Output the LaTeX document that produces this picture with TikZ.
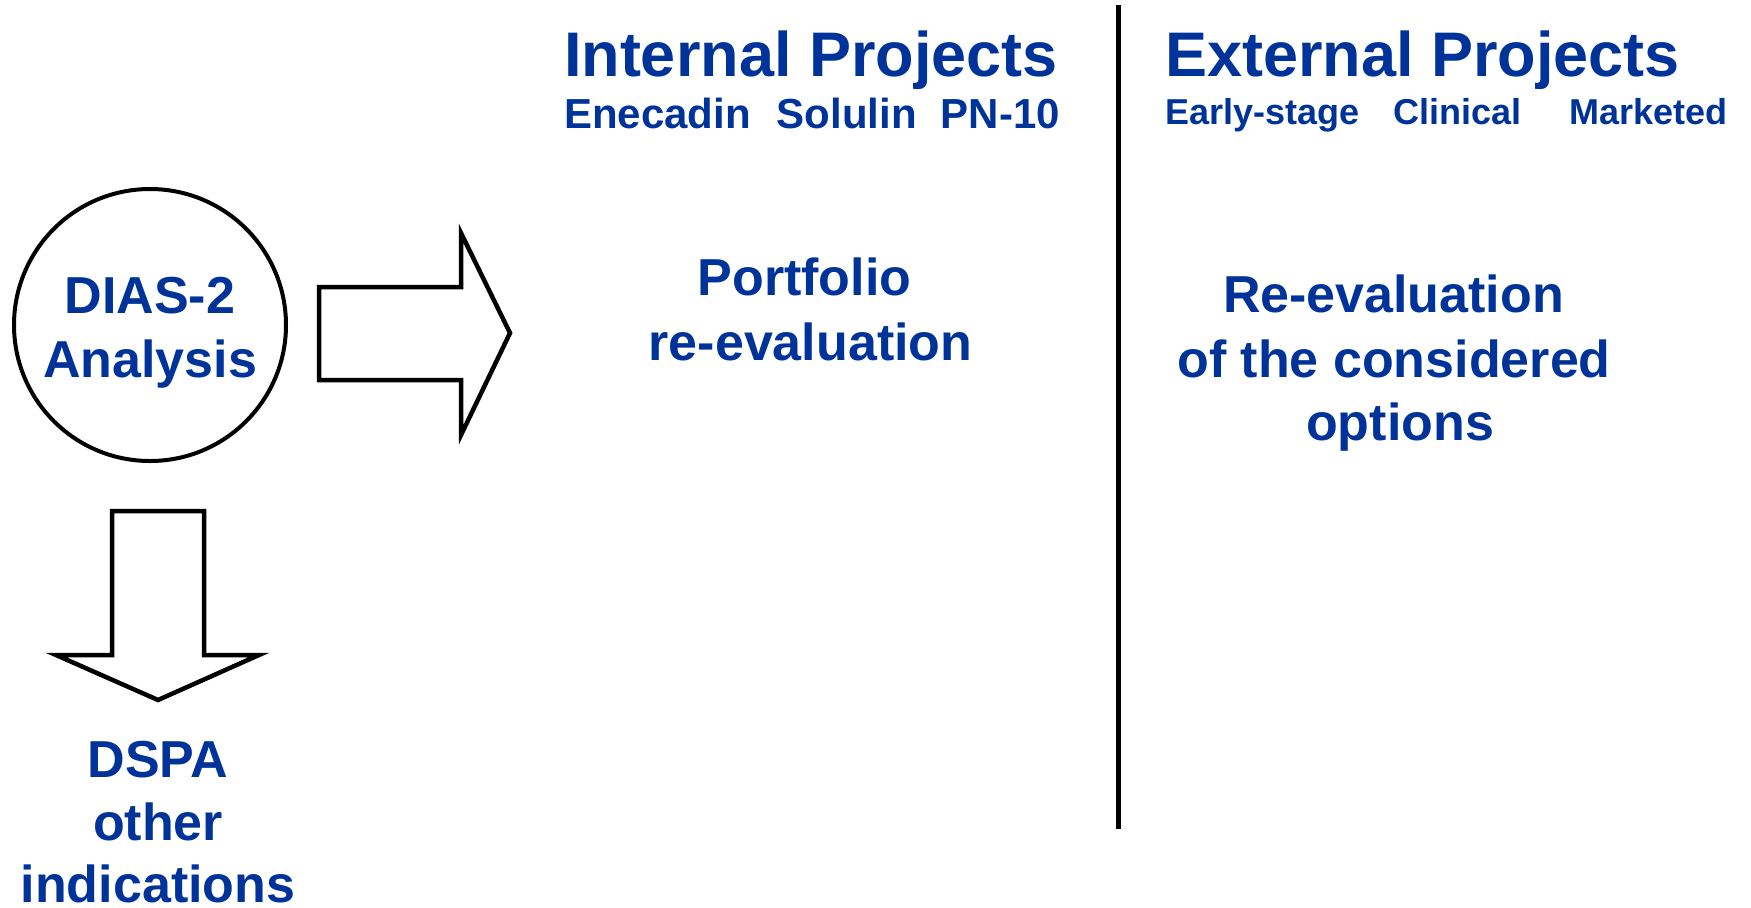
\documentclass[tikz,border=0pt]{standalone}
\usepackage{fontspec}
\setmainfont{Liberation Sans}
\definecolor{ppblue}{RGB}{0,51,153}
\begin{document}
\begin{tikzpicture}[x=0.5pt,y=-0.5pt,
  txt/.style={text=ppblue,inner sep=0pt,outer sep=0pt,anchor=base},
  big/.style={txt,font=\bfseries\fontsize{26}{31}\selectfont},
  title/.style={txt,font=\bfseries\fontsize{31.5}{36}\selectfont},
  subt/.style={txt,font=\bfseries\fontsize{21}{25}\selectfont},
  subx/.style={txt,font=\bfseries\fontsize{18}{22}\selectfont},
  blockarrow/.style={draw=black,line width=2.25pt,line join=miter,fill=white}]
\useasboundingbox (0,0) rectangle (1751,907);

% analysis circle
\node[circle,draw=black,line width=2pt,minimum size=136pt,inner sep=0pt] (dias) at (150,325) {};
\node[big] (dias1) at (150,313) {DIAS-2};
\node[big] (dias2) at (150,377) {Analysis};

% block arrows
\draw[blockarrow] (319,287) -- (461,287) -- (461,233) -- (510,333) -- (461,435) -- (461,380) -- (319,380) -- cycle;
\draw[blockarrow] (112,511) -- (204,511) -- (204,655) -- (259,655) -- (158,700) -- (56,655) -- (112,655) -- cycle;

% other indications
\node[big] (dspa1) at (158,777) {DSPA};
\node[big] (dspa2) at (158,840) {other};
\node[big] (dspa3) at (158,902) {indications};

% internal projects
\node[title,anchor=base west] (intl) at (564,76) {Internal Projects};
\node[subt,anchor=base west] (intlsub) at (564,128) {Enecadin\hspace{13pt}Solulin\hspace{12pt}PN-10};
\node[big] (port1) at (804.5,295) {Portfolio};
\node[big] (port2) at (810.5,360) {re-evaluation};

% divider
\coordinate (divtop) at (1118,5);
\coordinate (divbot) at (1118,829);
\draw[line width=2.5pt] (divtop) -- (divbot);

% external projects
\node[title,anchor=base west] (extl) at (1165,76) {External Projects};
\node[subx,anchor=base west] (extlsub) at (1165,124) {Early-stage\hspace{17pt}Clinical\hspace{24pt}Marketed};
\node[big] (reev1) at (1393.5,312) {Re-evaluation};
\node[big] (reev2) at (1394,377) {of the considered};
\node[big] (reev3) at (1400,440) {options};
\end{tikzpicture}
\end{document}
